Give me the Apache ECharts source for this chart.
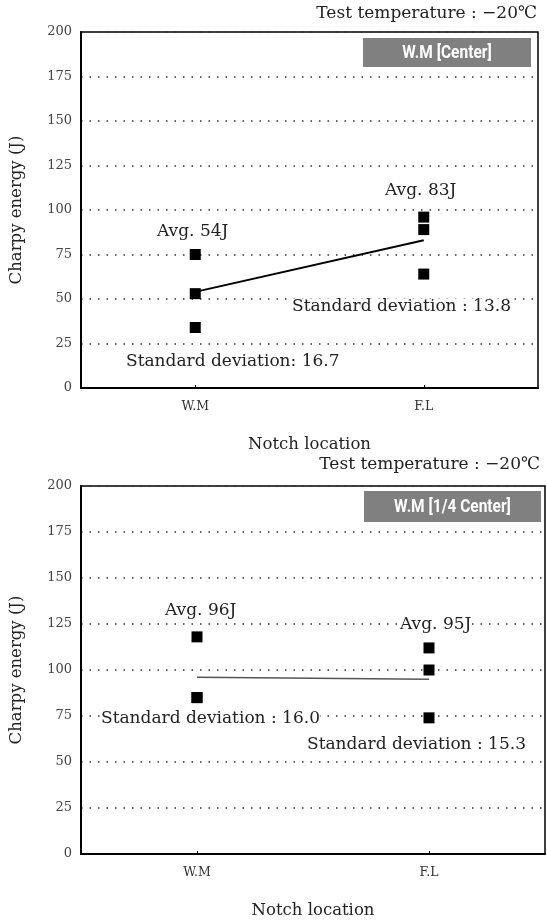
<!DOCTYPE html>
<html>
<head>
<meta charset="utf-8">
<script src="https://cdn.jsdelivr.net/npm/echarts@6/dist/echarts.min.js"></script>
<style>
html,body{margin:0;padding:0;background:#fff;}
#c{width:547px;height:920px;}
</style>
</head>
<body>
<div id="c"></div>
<script>
// ---- data ----
const categories = ['W.M', 'F.L'];
const centerWM = [75, 53, 34];
const centerFL = [96, 89, 64];
const centerAvg = [54, 83];
const quarterWM = [118, 85, 85];
const quarterFL = [112, 100, 74];
const quarterAvg = [96, 95];
const panelTitles = ['W.M [Center]', 'W.M [1/4 Center]'];
const tempText = 'Test temperature : \u221220\u2103';
const yMin = 0, yMax = 200, yStep = 25;

const serif = 'DejaVu Serif';
const txtColor = '#222';

function pts(cat, arr) { return arr.map(v => [cat, v]); }

function xAxisDef(gi) {
  return {
    type: 'category', gridIndex: gi, data: categories, boundaryGap: true,
    axisLine: { lineStyle: { color: '#000', width: 2 } },
    axisTick: { show: true, inside: true, length: 3, alignWithLabel: true, lineStyle: { color: '#000' } },
    axisLabel: { fontFamily: serif, fontSize: 12.5, color: '#333', margin: 12 },
    name: 'Notch location', nameLocation: 'middle', nameGap: 48,
    nameTextStyle: { fontFamily: serif, fontSize: 16.5, color: txtColor },
    splitLine: { show: false }
  };
}
function yAxisDef(gi) {
  return {
    type: 'value', gridIndex: gi, min: yMin, max: yMax, interval: yStep,
    axisLine: { show: true, lineStyle: { color: '#000', width: 2 } },
    axisTick: { show: false },
    axisLabel: { fontFamily: serif, fontSize: 13, color: '#444', margin: 9 },
    name: 'Charpy energy (J)', nameLocation: 'middle', nameRotate: 90, nameGap: 56,
    nameTextStyle: { fontFamily: serif, fontSize: 16.5, color: txtColor },
    splitLine: { show: true, lineStyle: { type: [1.5, 7], color: '#333', width: 1.5 } }
  };
}
function scatter(gi, data) {
  return {
    type: 'scatter', xAxisIndex: gi, yAxisIndex: gi, data: data,
    symbol: 'rect', symbolSize: 11, itemStyle: { color: '#000', opacity: 1 }, z: 5
  };
}
function text(x, y, s, opts) {
  return {
    type: 'text', x: x, y: y, z: 10,
    style: Object.assign({ text: s, font: '17px "' + serif + '"', fill: txtColor, textVerticalAlign: 'middle' }, opts || {})
  };
}
function titleBox(x, y, w, h, s) {
  return [
    { type: 'rect', shape: { x: x, y: y, width: w, height: h }, style: { fill: '#808080' }, z: 9 },
    { type: 'text', x: x + w / 2, y: y + h / 2 + 1, scaleX: 0.86, z: 10,
      style: { text: s, font: 'bold 18px "Roboto"', fill: '#fff', textAlign: 'center', textVerticalAlign: 'middle' } }
  ];
}

const chart = echarts.init(document.getElementById('c'));
chart.setOption({
  animation: false,
  backgroundColor: '#fff',
  grid: [
    { left: 81, top: 32, width: 457, height: 356, show: true, borderColor: '#000', borderWidth: 1.5 },
    { left: 80, top: 486, width: 465, height: 377, show: true, borderColor: '#000', borderWidth: 1.5 }
  ],
  xAxis: [xAxisDef(0), xAxisDef(1)],
  yAxis: [yAxisDef(0), yAxisDef(1)],
  series: [
    scatter(0, pts('W.M', centerWM).concat(pts('F.L', centerFL))),
    { type: 'line', xAxisIndex: 0, yAxisIndex: 0, data: centerAvg, symbol: 'none',
      lineStyle: { color: '#000', width: 2 }, z: 4 },
    scatter(1, pts('W.M', quarterWM).concat(pts('F.L', quarterFL))),
    { type: 'line', xAxisIndex: 1, yAxisIndex: 1, data: quarterAvg, symbol: 'none',
      lineStyle: { color: '#555', width: 1.5 }, z: 4 }
  ],
  graphic: [
    text(537, 14, tempText, { textAlign: 'right' }),
    ...titleBox(363, 38, 168, 29, panelTitles[0]),
    text(385, 191, 'Avg. 83J'),
    text(157, 232, 'Avg. 54J'),
    text(292, 307, 'Standard deviation : 13.8', { backgroundColor: '#fff' }),
    text(126, 362, 'Standard deviation: 16.7'),

    text(540, 465, tempText, { textAlign: 'right' }),
    ...titleBox(364, 491, 177, 31, panelTitles[1]),
    text(165, 611, 'Avg. 96J'),
    text(400, 625, 'Avg. 95J', { backgroundColor: '#fff' }),
    text(101, 719, 'Standard deviation : 16.0', { backgroundColor: '#fff' }),
    text(307, 745, 'Standard deviation : 15.3', { backgroundColor: '#fff' })
  ]
});
</script>
</body>
</html>
